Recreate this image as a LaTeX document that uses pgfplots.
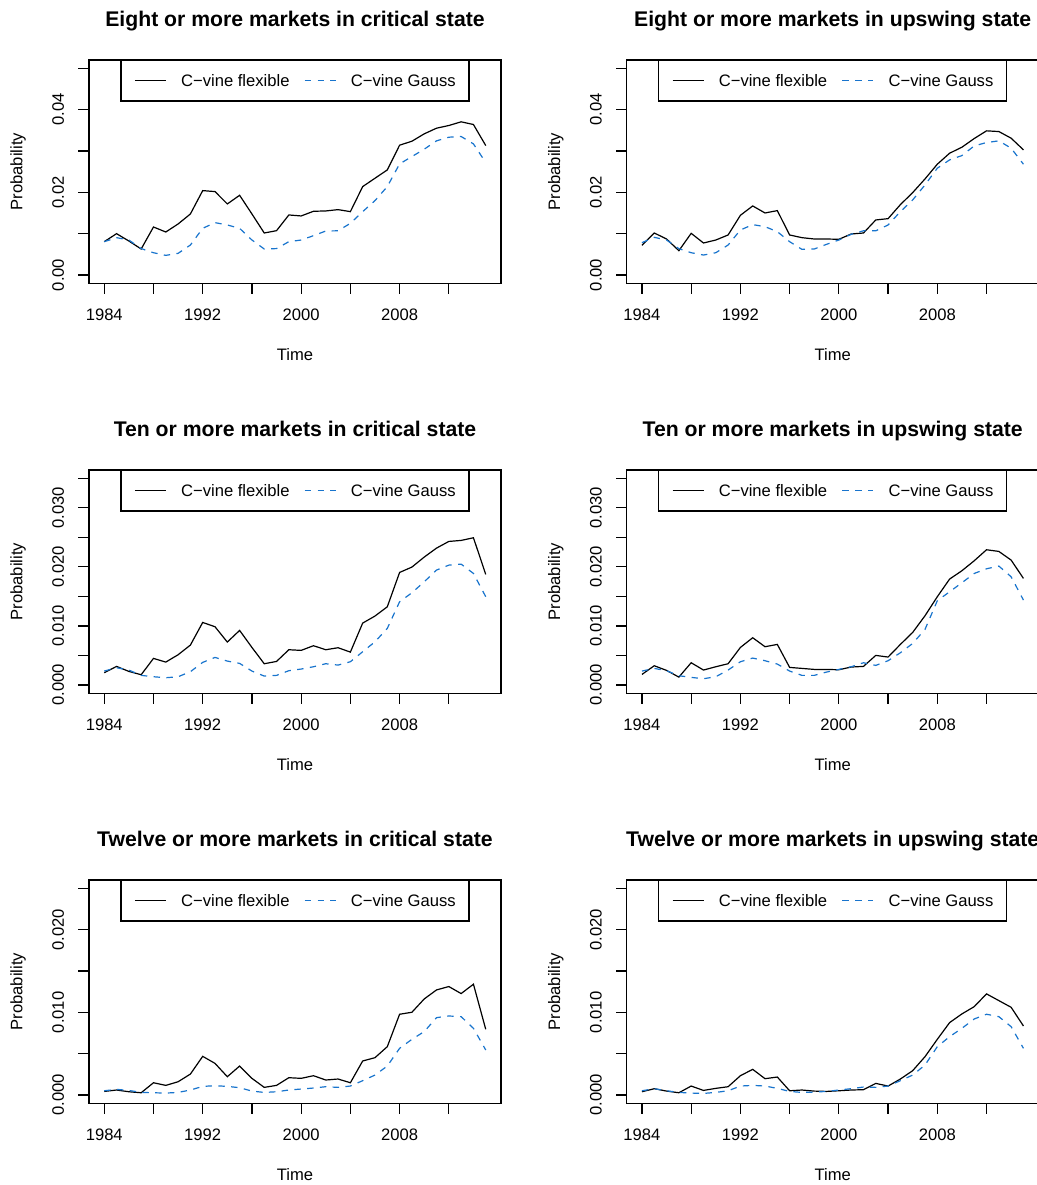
\documentclass[border=0pt]{standalone}
\usepackage{fontspec}
\setmainfont{Liberation Sans}
\usepackage{pgfplots}
\usepackage{pgfplotstable}
\pgfplotsset{compat=1.18}
\definecolor{gblue}{RGB}{24,116,205}
\newcommand{\bfont}{\fontsize{8.3}{10}\selectfont}
\newcommand{\tfont}{\bfseries\fontsize{10.6}{12.5}\selectfont}

\pgfplotstableread{
year flex gauss
1984 0.00807 0.00807
1985 0.01001 0.00904
1986 0.00823 0.00847
1987 0.00630 0.00640
1988 0.01162 0.00540
1989 0.01041 0.00476
1990 0.01235 0.00525
1991 0.01477 0.00726
1992 0.02042 0.01130
1993 0.02018 0.01267
1994 0.01719 0.01211
1995 0.01929 0.01130
1996 0.01477 0.00847
1997 0.01017 0.00630
1998 0.01073 0.00640
1999 0.01453 0.00807
2000 0.01429 0.00847
2001 0.01542 0.00952
2002 0.01550 0.01065
2003 0.01582 0.01070
2004 0.01533 0.01251
2005 0.02139 0.01533
2006 0.02341 0.01800
2007 0.02542 0.02139
2008 0.03140 0.02688
2009 0.03236 0.02865
2010 0.03414 0.03043
2011 0.03551 0.03245
2012 0.03616 0.03333
2013 0.03705 0.03350
2014 0.03640 0.03172
2015 0.03131 0.02720
}\tabA
\pgfplotstableread{
year flex gauss
1984 0.00718 0.00783
1985 0.01017 0.00912
1986 0.00872 0.00847
1987 0.00589 0.00638
1988 0.01009 0.00540
1989 0.00775 0.00484
1990 0.00847 0.00540
1991 0.00969 0.00726
1992 0.01445 0.01090
1993 0.01671 0.01219
1994 0.01501 0.01170
1995 0.01558 0.01049
1996 0.00969 0.00807
1997 0.00904 0.00621
1998 0.00872 0.00630
1999 0.00872 0.00743
2000 0.00864 0.00847
2001 0.00993 0.00985
2002 0.01017 0.01070
2003 0.01332 0.01070
2004 0.01364 0.01211
2005 0.01703 0.01533
2006 0.01994 0.01816
2007 0.02324 0.02179
2008 0.02680 0.02583
2009 0.02946 0.02785
2010 0.03091 0.02889
2011 0.03301 0.03123
2012 0.03487 0.03204
2013 0.03470 0.03245
2014 0.03309 0.03067
2015 0.03027 0.02680
}\tabB
\pgfplotstableread{
year flex gauss
1984 0.00209 0.00237
1985 0.00316 0.00293
1986 0.00231 0.00254
1987 0.00175 0.00164
1988 0.00451 0.00141
1989 0.00389 0.00124
1990 0.00513 0.00141
1991 0.00677 0.00226
1992 0.01060 0.00384
1993 0.00987 0.00468
1994 0.00728 0.00406
1995 0.00925 0.00367
1996 0.00637 0.00237
1997 0.00361 0.00152
1998 0.00400 0.00164
1999 0.00598 0.00243
2000 0.00587 0.00271
2001 0.00666 0.00310
2002 0.00598 0.00361
2003 0.00632 0.00338
2004 0.00558 0.00395
2005 0.01049 0.00564
2006 0.01168 0.00733
2007 0.01325 0.00959
2008 0.01906 0.01410
2009 0.01997 0.01562
2010 0.02166 0.01748
2011 0.02318 0.01946
2012 0.02431 0.02030
2013 0.02448 0.02047
2014 0.02493 0.01889
2015 0.01873 0.01495
}\tabC
\pgfplotstableread{
year flex gauss
1984 0.00180 0.00237
1985 0.00327 0.00282
1986 0.00248 0.00243
1987 0.00135 0.00158
1988 0.00378 0.00130
1989 0.00254 0.00107
1990 0.00310 0.00141
1991 0.00361 0.00254
1992 0.00637 0.00395
1993 0.00801 0.00457
1994 0.00649 0.00412
1995 0.00688 0.00355
1996 0.00299 0.00237
1997 0.00282 0.00164
1998 0.00265 0.00164
1999 0.00265 0.00220
2000 0.00259 0.00265
2001 0.00305 0.00310
2002 0.00316 0.00378
2003 0.00502 0.00333
2004 0.00474 0.00412
2005 0.00688 0.00547
2006 0.00891 0.00705
2007 0.01173 0.00942
2008 0.01495 0.01427
2009 0.01794 0.01579
2010 0.01935 0.01732
2011 0.02104 0.01889
2012 0.02290 0.01968
2013 0.02262 0.02014
2014 0.02115 0.01833
2015 0.01805 0.01438
}\tabD
\pgfplotstableread{
year flex gauss
1984 0.00044 0.00052
1985 0.00061 0.00069
1986 0.00040 0.00056
1987 0.00028 0.00032
1988 0.00149 0.00028
1989 0.00117 0.00024
1990 0.00161 0.00032
1991 0.00254 0.00061
1992 0.00468 0.00105
1993 0.00383 0.00113
1994 0.00222 0.00105
1995 0.00351 0.00089
1996 0.00202 0.00048
1997 0.00093 0.00032
1998 0.00117 0.00040
1999 0.00210 0.00061
2000 0.00202 0.00073
2001 0.00234 0.00085
2002 0.00182 0.00101
2003 0.00194 0.00093
2004 0.00149 0.00109
2005 0.00412 0.00174
2006 0.00452 0.00242
2007 0.00585 0.00351
2008 0.00977 0.00565
2009 0.01001 0.00674
2010 0.01162 0.00767
2011 0.01271 0.00936
2012 0.01312 0.00956
2013 0.01227 0.00948
2014 0.01340 0.00807
2015 0.00795 0.00545
}\tabE
\pgfplotstableread{
year flex gauss
1984 0.00040 0.00052
1985 0.00077 0.00077
1986 0.00048 0.00052
1987 0.00028 0.00032
1988 0.00109 0.00024
1989 0.00056 0.00020
1990 0.00081 0.00032
1991 0.00101 0.00052
1992 0.00234 0.00109
1993 0.00311 0.00117
1994 0.00198 0.00109
1995 0.00218 0.00081
1996 0.00052 0.00044
1997 0.00061 0.00032
1998 0.00048 0.00036
1999 0.00044 0.00044
2000 0.00052 0.00061
2001 0.00061 0.00077
2002 0.00065 0.00097
2003 0.00141 0.00093
2004 0.00109 0.00109
2005 0.00194 0.00174
2006 0.00295 0.00242
2007 0.00464 0.00363
2008 0.00674 0.00585
2009 0.00876 0.00706
2010 0.00981 0.00807
2011 0.01069 0.00920
2012 0.01223 0.00977
2013 0.01142 0.00948
2014 0.01061 0.00827
2015 0.00835 0.00565
}\tabF

\pgfplotsset{
  panel/.style={
    scale only axis, width=206pt, height=111.67pt,
    anchor=north west,
    xmin=1982.76, xmax=2016.24,
    xtick={1984,1988,...,2012},
    xticklabels={1984,,1992,,2000,,2008,},
    scaled x ticks=false, scaled y ticks=false,
    xtick pos=left, ytick pos=left,
    tick align=outside, major tick length=5.33pt,
    major tick style={black, line width=0.6pt},
    axis line style={line width=0.6pt},
    tick label style={font=\bfont},
    xticklabel style={anchor=north, inner sep=0pt},
    xticklabel shift=7.17pt,
    yticklabel style={rotate=90, anchor=south, inner sep=0pt},
    yticklabel shift=6.9pt,
    every axis x label/.style={at={(axis description cs:0.5,-0.321)}, anchor=center, font=\bfont},
    every axis y label/.style={at={(axis description cs:-0.1723,0.5)}, rotate=90, anchor=center, font=\bfont},
    every axis title/.style={at={(axis description cs:0.5,1.1522)}, anchor=base, font=\tfont},
    xlabel={Time}, ylabel={Probability},
    legend image code/.code={\draw[##1] (0pt,0pt) -- (15.5pt,0pt);},
    legend style={at={(axis description cs:0.5,1)}, anchor=north,
      legend columns=2, draw=black, line width=0.6pt, fill=white,
      inner xsep=6.7pt, inner ysep=7.1pt, column sep=7.3pt,
      nodes={inner sep=0pt, text depth=0pt, font=\bfont},
      cells={anchor=center}},
    clip=true,
  },
  ylimA/.style={ymin=-0.002, ymax=0.052, ytick={0,0.01,0.02,0.03,0.04,0.05}, yticklabels={0.00,,0.02,,0.04,}},
  ylimB/.style={ymin=-0.0014, ymax=0.0364, ytick={0,0.005,0.01,0.015,0.02,0.025,0.03,0.035}, yticklabels={0.000,,0.010,,0.020,,0.030,}},
  ylimC/.style={ymin=-0.001, ymax=0.026, ytick={0,0.005,0.01,0.015,0.02,0.025}, yticklabels={0.000,,0.010,,0.020,}},
  flexline/.style={black, line width=0.6pt},
  gaussline/.style={gblue, line width=0.6pt, dash pattern=on 3.2pt off 3.2pt},
}

\begin{document}
\begin{tikzpicture}
% Row 1
\begin{axis}[panel, ylimA, at={(44.5pt,562.5pt)}, title={Eight or more markets in critical state}]
\addplot[flexline] table[x=year,y=flex]{\tabA};
\addplot[gaussline] table[x=year,y=gauss]{\tabA};
\legend{C−vine flexible, C−vine Gauss}
\end{axis}
\begin{axis}[panel, ylimA, at={(313.35pt,562.5pt)}, title={Eight or more markets in upswing state}]
\addplot[flexline] table[x=year,y=flex]{\tabB};
\addplot[gaussline] table[x=year,y=gauss]{\tabB};
\legend{C−vine flexible, C−vine Gauss}
\end{axis}
% Row 2
\begin{axis}[panel, ylimB, at={(44.5pt,357.5pt)}, title={Ten or more markets in critical state}]
\addplot[flexline] table[x=year,y=flex]{\tabC};
\addplot[gaussline] table[x=year,y=gauss]{\tabC};
\legend{C−vine flexible, C−vine Gauss}
\end{axis}
\begin{axis}[panel, ylimB, at={(313.35pt,357.5pt)}, title={Ten or more markets in upswing state}]
\addplot[flexline] table[x=year,y=flex]{\tabD};
\addplot[gaussline] table[x=year,y=gauss]{\tabD};
\legend{C−vine flexible, C−vine Gauss}
\end{axis}
% Row 3
\begin{axis}[panel, ylimC, at={(44.5pt,152.5pt)}, title={Twelve or more markets in critical state}]
\addplot[flexline] table[x=year,y=flex]{\tabE};
\addplot[gaussline] table[x=year,y=gauss]{\tabE};
\legend{C−vine flexible, C−vine Gauss}
\end{axis}
\begin{axis}[panel, ylimC, at={(313.35pt,152.5pt)}, title={Twelve or more markets in upswing state}]
\addplot[flexline] table[x=year,y=flex]{\tabF};
\addplot[gaussline] table[x=year,y=gauss]{\tabF};
\legend{C−vine flexible, C−vine Gauss}
\end{axis}
\pgfresetboundingbox
\path[use as bounding box] (0,0) rectangle (518.5pt,592.5pt);
\end{tikzpicture}
\end{document}
